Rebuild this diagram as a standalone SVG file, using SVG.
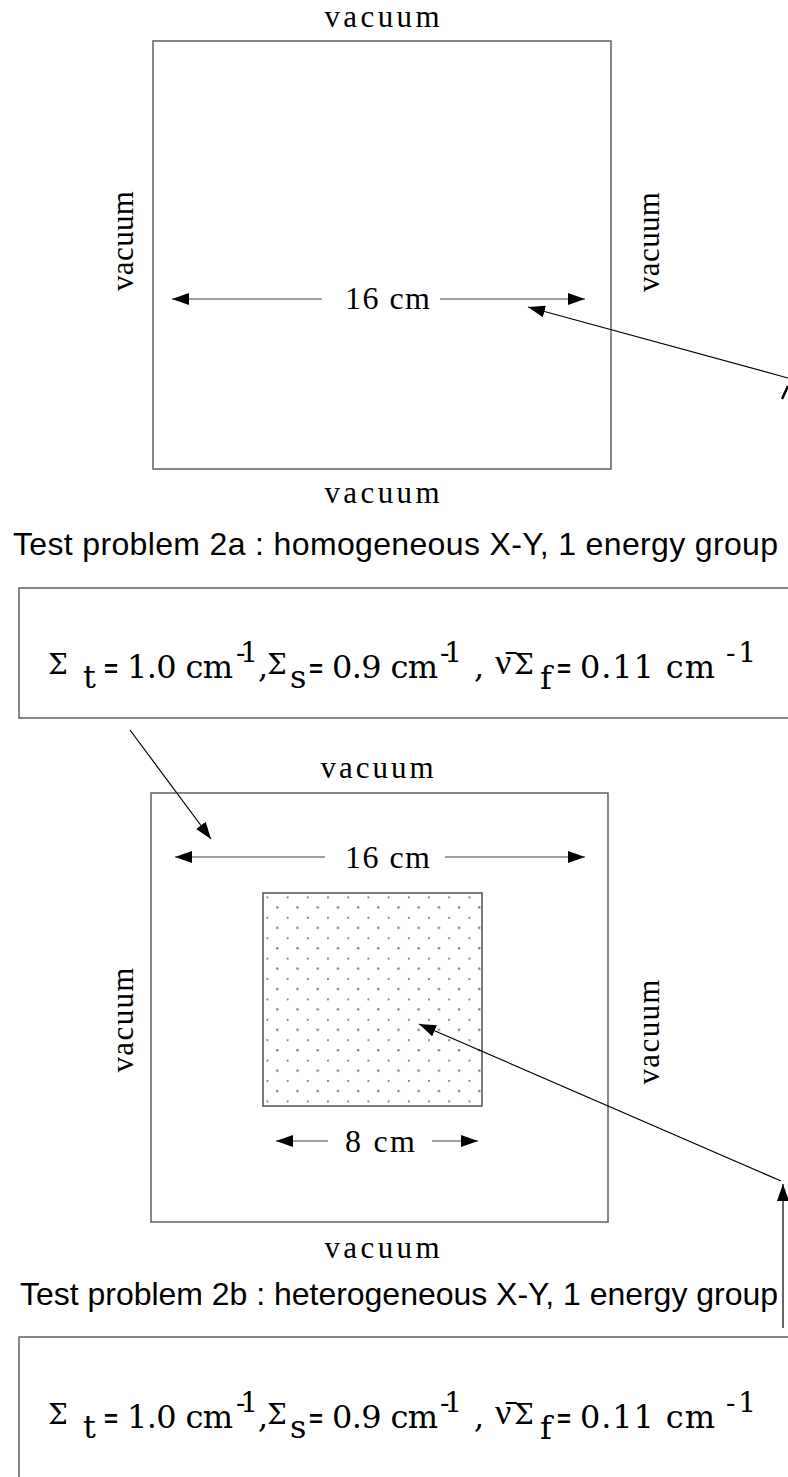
<svg xmlns="http://www.w3.org/2000/svg" width="788" height="1477" viewBox="0 0 788 1477">
<style>
.frame{fill:none;stroke:#555;stroke-width:1.4}
.vac{font-family:"Liberation Serif","DejaVu Serif",serif;font-size:31px;fill:#000}
.dim{font-family:"Liberation Serif","DejaVu Serif",serif;font-size:32px;fill:#000}
.title{font-family:"Liberation Sans",Arial,sans-serif;font-size:32px;fill:#000}
.f{font-family:"DejaVu Serif","Liberation Serif",serif;font-size:32px;fill:#000}
.sig{font-family:"DejaVu Serif",serif;font-size:28px}
.nu{font-family:"Liberation Serif",serif;font-size:36px}
.eq{font-family:"Liberation Sans",sans-serif;font-weight:bold;font-size:24px}
.sup{font-size:28px}
.ar{stroke:#000;stroke-width:1.2;fill:none}
.dl{stroke:#444;stroke-width:1.2;fill:none}
</style>
<defs>
<marker id="ah" markerUnits="userSpaceOnUse" markerWidth="18" markerHeight="12" refX="17" refY="6" orient="auto">
<path d="M0,0 L17,6 L0,12 Z" fill="#000"/>
</marker>
<pattern id="dots" x="266.5" y="896.5" width="20.2" height="20.4" patternUnits="userSpaceOnUse">
<circle cx="0.7" cy="0.7" r="1.2" fill="#777"/>
<circle cx="10.8" cy="10.9" r="1.2" fill="#777"/>
</pattern>
</defs>
<rect width="788" height="1477" fill="#fff"/>

<g id="problem2a-geometry">
<rect class="frame" x="153" y="41" width="458" height="428"/>
<text class="vac" x="382" y="27" text-anchor="middle" textLength="115">vacuum</text>
<text class="vac" x="382" y="503" text-anchor="middle" textLength="115">vacuum</text>
<text class="vac" transform="translate(133,241) rotate(-90)" text-anchor="middle" textLength="100">vacuum</text>
<text class="vac" transform="translate(659,242) rotate(-90)" text-anchor="middle" textLength="100">vacuum</text>
<text class="dim" x="345" y="309" textLength="85">16 cm</text>
</g>

<g id="title2a">
<text class="title" x="13" y="555" textLength="765">Test problem 2a : homogeneous X-Y, 1 energy group</text>
</g>

<g id="props2a">
<rect class="frame" x="19" y="588" width="800" height="130"/>
<g class="f">
<text class="sig" x="48" y="674">Σ</text>
<text x="83" y="688">t</text>
<text class="eq" x="104" y="677">=</text>
<text x="127" y="678" textLength="106">1.0 cm</text>
<text class="sup" x="236" y="662" textLength="22">-1</text>
<text x="258" y="678">,</text>
<text class="sig" x="267" y="674">Σ</text>
<text x="290" y="688">s</text>
<text class="eq" x="309" y="677">=</text>
<text x="332" y="678" textLength="106">0.9 cm</text>
<text class="sup" x="440" y="662" textLength="22">-1</text>
<text x="474" y="678">,</text>
<text class="nu" x="495" y="674">ν̄</text>
<text class="sig" x="514" y="674">Σ</text>
<text x="540" y="689">f</text>
<text class="eq" x="557" y="677">=</text>
<text x="580" y="678" textLength="135">0.11 cm</text>
<text class="sup" x="726" y="662" textLength="30">-1</text>
</g>
</g>

<g id="problem2b-geometry">
<rect class="frame" x="151" y="793" width="457" height="429"/>
<rect x="263" y="893" width="219" height="213" fill="url(#dots)" stroke="#444" stroke-width="1.4"/>
<text class="vac" x="377" y="778" text-anchor="middle" textLength="113">vacuum</text>
<text class="vac" x="382" y="1258" text-anchor="middle" textLength="115">vacuum</text>
<text class="vac" transform="translate(133,1020) rotate(-90)" text-anchor="middle" textLength="105">vacuum</text>
<text class="vac" transform="translate(659,1032) rotate(-90)" text-anchor="middle" textLength="105">vacuum</text>
<text class="dim" x="345" y="868" textLength="85">16 cm</text>
<text class="dim" x="345" y="1152" textLength="70">8 cm</text>
</g>

<g id="title2b">
<text class="title" x="20" y="1305" textLength="758">Test problem 2b : heterogeneous X-Y, 1 energy group</text>
</g>

<g id="props2b">
<rect class="frame" x="19" y="1337" width="800" height="200"/>
<g class="f">
<text class="sig" x="48" y="1424">Σ</text>
<text x="83" y="1438">t</text>
<text class="eq" x="104" y="1427">=</text>
<text x="127" y="1428" textLength="106">1.0 cm</text>
<text class="sup" x="236" y="1412" textLength="22">-1</text>
<text x="258" y="1428">,</text>
<text class="sig" x="267" y="1424">Σ</text>
<text x="290" y="1438">s</text>
<text class="eq" x="309" y="1427">=</text>
<text x="332" y="1428" textLength="106">0.9 cm</text>
<text class="sup" x="440" y="1412" textLength="22">-1</text>
<text x="474" y="1428">,</text>
<text class="nu" x="495" y="1424">ν̄</text>
<text class="sig" x="514" y="1424">Σ</text>
<text x="540" y="1439">f</text>
<text class="eq" x="557" y="1427">=</text>
<text x="580" y="1428" textLength="135">0.11 cm</text>
<text class="sup" x="726" y="1412" textLength="30">-1</text>
</g>
</g>

<g id="connectors">
<line class="dl" x1="322" y1="299" x2="172" y2="299" marker-end="url(#ah)"/>
<line class="dl" x1="440" y1="299" x2="585" y2="299" marker-end="url(#ah)"/>
<line class="ar" x1="788" y1="378" x2="528" y2="307" marker-end="url(#ah)"/>
<line x1="782" y1="399" x2="788" y2="386" stroke="#000" stroke-width="2.5"/>
<line class="ar" x1="130" y1="730" x2="211" y2="839" marker-end="url(#ah)"/>
<line class="dl" x1="325" y1="857" x2="175" y2="857" marker-end="url(#ah)"/>
<line class="dl" x1="445" y1="857" x2="585" y2="857" marker-end="url(#ah)"/>
<line class="dl" x1="328" y1="1141" x2="276" y2="1141" marker-end="url(#ah)"/>
<line class="dl" x1="432" y1="1141" x2="478" y2="1141" marker-end="url(#ah)"/>
<line class="ar" x1="781" y1="1181" x2="419" y2="1024" marker-end="url(#ah)"/>
<line class="ar" x1="783" y1="1328" x2="783" y2="1184" marker-end="url(#ah)"/>
</g>
</svg>
